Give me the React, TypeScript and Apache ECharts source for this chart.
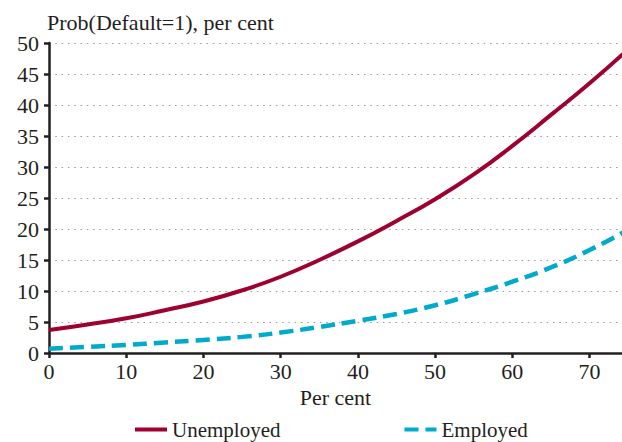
import React, { useEffect, useRef } from "react";
import * as echarts from "echarts";

const xValues = [0, 5, 10, 15, 20, 25, 30, 35, 40, 45, 50, 55, 60, 65, 70, 75];
const unemployed = [3.7, 4.6, 5.6, 6.9, 8.3, 10.1, 12.3, 15.0, 18.0, 21.3, 24.8, 28.8, 33.4, 38.4, 43.5, 49.0];
const employed = [0.7, 1.0, 1.3, 1.7, 2.1, 2.6, 3.3, 4.2, 5.2, 6.3, 7.7, 9.5, 11.5, 13.8, 16.6, 19.9];
const seriesNames = ["Unemployed", "Employed"];
const titleText = "Prob(Default=1), per cent";
const xAxisName = "Per cent";

const FONT = "Liberation Serif";
const INK = "#231f20";

export default function App() {
  const ref = useRef<HTMLDivElement>(null);
  useEffect(() => {
    if (!ref.current) return;
    const chart = echarts.init(ref.current, undefined, { renderer: "svg" });
    const pair = (ys: number[]) => xValues.map((x, i) => [x, ys[i]]);
    chart.setOption({
      animation: false,
      textStyle: { fontFamily: FONT, color: INK },
      title: {
        text: titleText,
        left: 42,
        top: 6,
        textStyle: { fontFamily: FONT, fontSize: 22, fontWeight: "normal", color: INK },
      },
      legend: {
        data: seriesNames,
        left: 128,
        top: 414,
        itemWidth: 32,
        itemHeight: 14,
        itemGap: 122,
        itemStyle: { opacity: 0 },
        lineStyle: { width: 4 },
        textStyle: { fontFamily: FONT, fontSize: 21, color: INK },
      },
      grid: { left: 49, right: 0, top: 43, bottom: 89, containLabel: false },
      xAxis: {
        type: "value",
        min: 0,
        max: 74.2,
        interval: 10,
        name: xAxisName,
        nameLocation: "middle",
        nameGap: 23,
        nameTextStyle: { fontFamily: FONT, fontSize: 22, color: INK },
        axisLine: { show: true, lineStyle: { color: INK, width: 2.5 } },
        axisTick: { show: true, length: 5, lineStyle: { color: INK, width: 2.5 } },
        axisLabel: { fontFamily: FONT, fontSize: 22, color: INK, margin: 7, showMaxLabel: false },
        splitLine: { show: false },
      },
      yAxis: {
        type: "value",
        min: 0,
        max: 50,
        interval: 5,
        axisLine: { show: true, lineStyle: { color: INK, width: 2.5 } },
        axisTick: { show: true, length: 5, lineStyle: { color: INK, width: 2.5 } },
        axisLabel: { fontFamily: FONT, fontSize: 22, color: INK, margin: 10 },
        splitLine: { show: true, lineStyle: { color: "#999", width: 1.2, type: [1.5, 4.8] } },
      },
      series: [
        {
          name: seriesNames[0],
          type: "line",
          data: pair(unemployed),
          smooth: true,
          symbol: "none",
          lineStyle: { color: "#9e0030", width: 4 },
          itemStyle: { color: "#9e0030" },
          z: 3,
        },
        {
          name: seriesNames[1],
          type: "line",
          data: pair(employed),
          smooth: true,
          symbol: "none",
          lineStyle: { color: "#00aacb", width: 4.5, type: [14, 7] },
          itemStyle: { color: "#00aacb" },
          z: 3,
        },
      ],
    });
    return () => chart.dispose();
  }, []);
  return <div ref={ref} style={{ width: 622, height: 442, position: "absolute", left: 0, top: 0 }} />;
}
